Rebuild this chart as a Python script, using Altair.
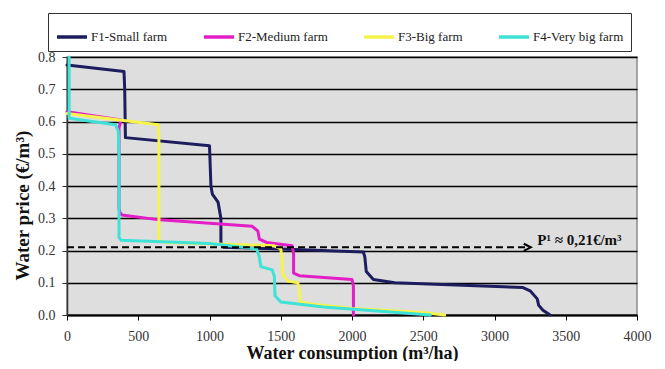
import altair as alt
import pandas as pd

series = ["F1-Small farm", "F2-Medium farm", "F3-Big farm", "F4-Very big farm"]
colors = ["#1c1c5e", "#e21fc6", "#f6f44c", "#3fe2d6"]

f1_x = [0, 400, 405, 410, 1000, 1010, 1020, 1060, 1080, 1080, 1100, 1500, 2080, 2090, 2100, 2150, 2300, 3200, 3250, 3300, 3310, 3340, 3390]
f1_y = [0.775, 0.755, 0.70, 0.55, 0.525, 0.40, 0.375, 0.35, 0.30, 0.225, 0.21, 0.205, 0.195, 0.18, 0.135, 0.11, 0.10, 0.085, 0.075, 0.05, 0.03, 0.015, 0.0]

f2_x = [0, 380, 365, 365, 370, 385, 650, 1300, 1340, 1350, 1400, 1580, 1590, 1590, 1630, 2000, 2010, 2010]
f2_y = [0.63, 0.605, 0.58, 0.33, 0.32, 0.31, 0.295, 0.275, 0.26, 0.235, 0.225, 0.215, 0.19, 0.13, 0.122, 0.11, 0.09, 0.0]

f3_x = [0, 640, 645, 645, 700, 1450, 1500, 1510, 1515, 1550, 1620, 1630, 1635, 1700, 2000, 2500, 2650]
f3_y = [0.625, 0.59, 0.55, 0.23, 0.225, 0.215, 0.205, 0.17, 0.125, 0.105, 0.1, 0.08, 0.04, 0.035, 0.02, 0.008, 0.0]

f4_x = [15, 15, 340, 360, 365, 365, 380, 1000, 1330, 1350, 1360, 1440, 1455, 1460, 1500, 1800, 2200, 2550]
f4_y = [0.8, 0.61, 0.59, 0.57, 0.5, 0.24, 0.232, 0.222, 0.205, 0.18, 0.15, 0.14, 0.12, 0.06, 0.04, 0.025, 0.012, 0.0]

x_ticks = [0, 500, 1000, 1500, 2000, 2500, 3000, 3500, 4000]
y_ticks = [0.0, 0.1, 0.2, 0.3, 0.4, 0.5, 0.6, 0.7, 0.8]

threshold_price = [0.21]
threshold_x_start = [0]
threshold_x_end = [3230]
threshold_label = ["P¹ ≈ 0,21€/m³"]

rows = []
for name, xs, ys in zip(series, [f1_x, f2_x, f3_x, f4_x], [f1_y, f2_y, f3_y, f4_y]):
    for i, (xv, yv) in enumerate(zip(xs, ys)):
        rows.append({"farm": name, "water": xv, "price": yv, "idx": i})
df = pd.DataFrame(rows)

FONT = "Liberation Serif"
x_scale = alt.Scale(domain=[0, 4000], nice=False)
y_scale = alt.Scale(domain=[0, 0.8], nice=False)

x_axis = alt.Axis(values=x_ticks, format="d", title="Water consumption (m³/ha)", grid=False,
                  domainColor="black", domainWidth=2, tickColor="black", tickSize=5,
                  labelPadding=9, labelFont=FONT, labelFontSize=14, labelColor="#333",
                  titleFont=FONT, titleFontSize=18, titleFontWeight="bold", titleColor="#111",
                  titlePadding=1, labelFlush=False)
y_axis = alt.Axis(values=y_ticks, format=".1f", title="Water price (€/m³)", grid=True,
                  gridColor="black", gridWidth=1.5, domainColor="#333", domainWidth=1.5,
                  tickColor="#333", tickSize=5, labelPadding=7, labelFont=FONT,
                  labelFontSize=14, labelColor="#333", labelOverlap=False, titleFont=FONT,
                  titleFontSize=19, titleFontWeight="bold", titleColor="#111", titleX=-45,
                  titleY=148, titleBaseline="middle")

lines = alt.Chart(df).mark_line(strokeWidth=3, strokeJoin="round", strokeCap="round").encode(
    x=alt.X("water:Q", scale=x_scale, axis=x_axis),
    y=alt.Y("price:Q", scale=y_scale, axis=y_axis),
    color=alt.Color("farm:N", scale=alt.Scale(domain=series, range=colors),
                    legend=alt.Legend(title=None, orient="none", direction="horizontal",
                                      legendX=-19, legendY=-44, symbolType="stroke",
                                      symbolStrokeWidth=3.5, symbolSize=900, labelFont=FONT,
                                      labelFontSize=13, labelColor="#222", labelOffset=2,
                                      columnPadding=29, padding=7, strokeColor="#333",
                                      fillColor="white")),
    order="idx:Q",
)

thr_df = pd.DataFrame({"water": threshold_x_start, "water2": threshold_x_end,
                       "price": threshold_price, "label": threshold_label})

rule = alt.Chart(thr_df).mark_rule(strokeDash=[7, 4], strokeWidth=2, color="black").encode(
    x=alt.X("water:Q", scale=x_scale, axis=x_axis), x2="water2:Q",
    y=alt.Y("price:Q", scale=y_scale, axis=y_axis))

arrow = alt.Chart(thr_df).mark_point(shape="M-1,-1L1,0L-1,1", filled=False, strokeWidth=2,
                                     size=50, color="black", opacity=1).encode(
    x=alt.X("water2:Q", scale=x_scale, axis=x_axis),
    y=alt.Y("price:Q", scale=y_scale, axis=y_axis))

label = alt.Chart(thr_df).mark_text(align="left", baseline="middle", dx=10, dy=-7, font=FONT,
                                    fontSize=15, fontWeight="bold", color="#111").encode(
    x=alt.X("water2:Q", scale=x_scale, axis=x_axis),
    y=alt.Y("price:Q", scale=y_scale, axis=y_axis), text="label:N")

chart = alt.layer(lines, rule, arrow, label).properties(
    width=570, height=258,
    autosize=alt.AutoSizeParams(type="none"),
    padding={"left": 59, "top": 49, "right": 20, "bottom": 46},
    background="white",
).configure_view(fill="#dedede", stroke="#8a8a8a", strokeWidth=1.5)

chart.save("out.html", embed_options={"renderer": "svg", "actions": False})
